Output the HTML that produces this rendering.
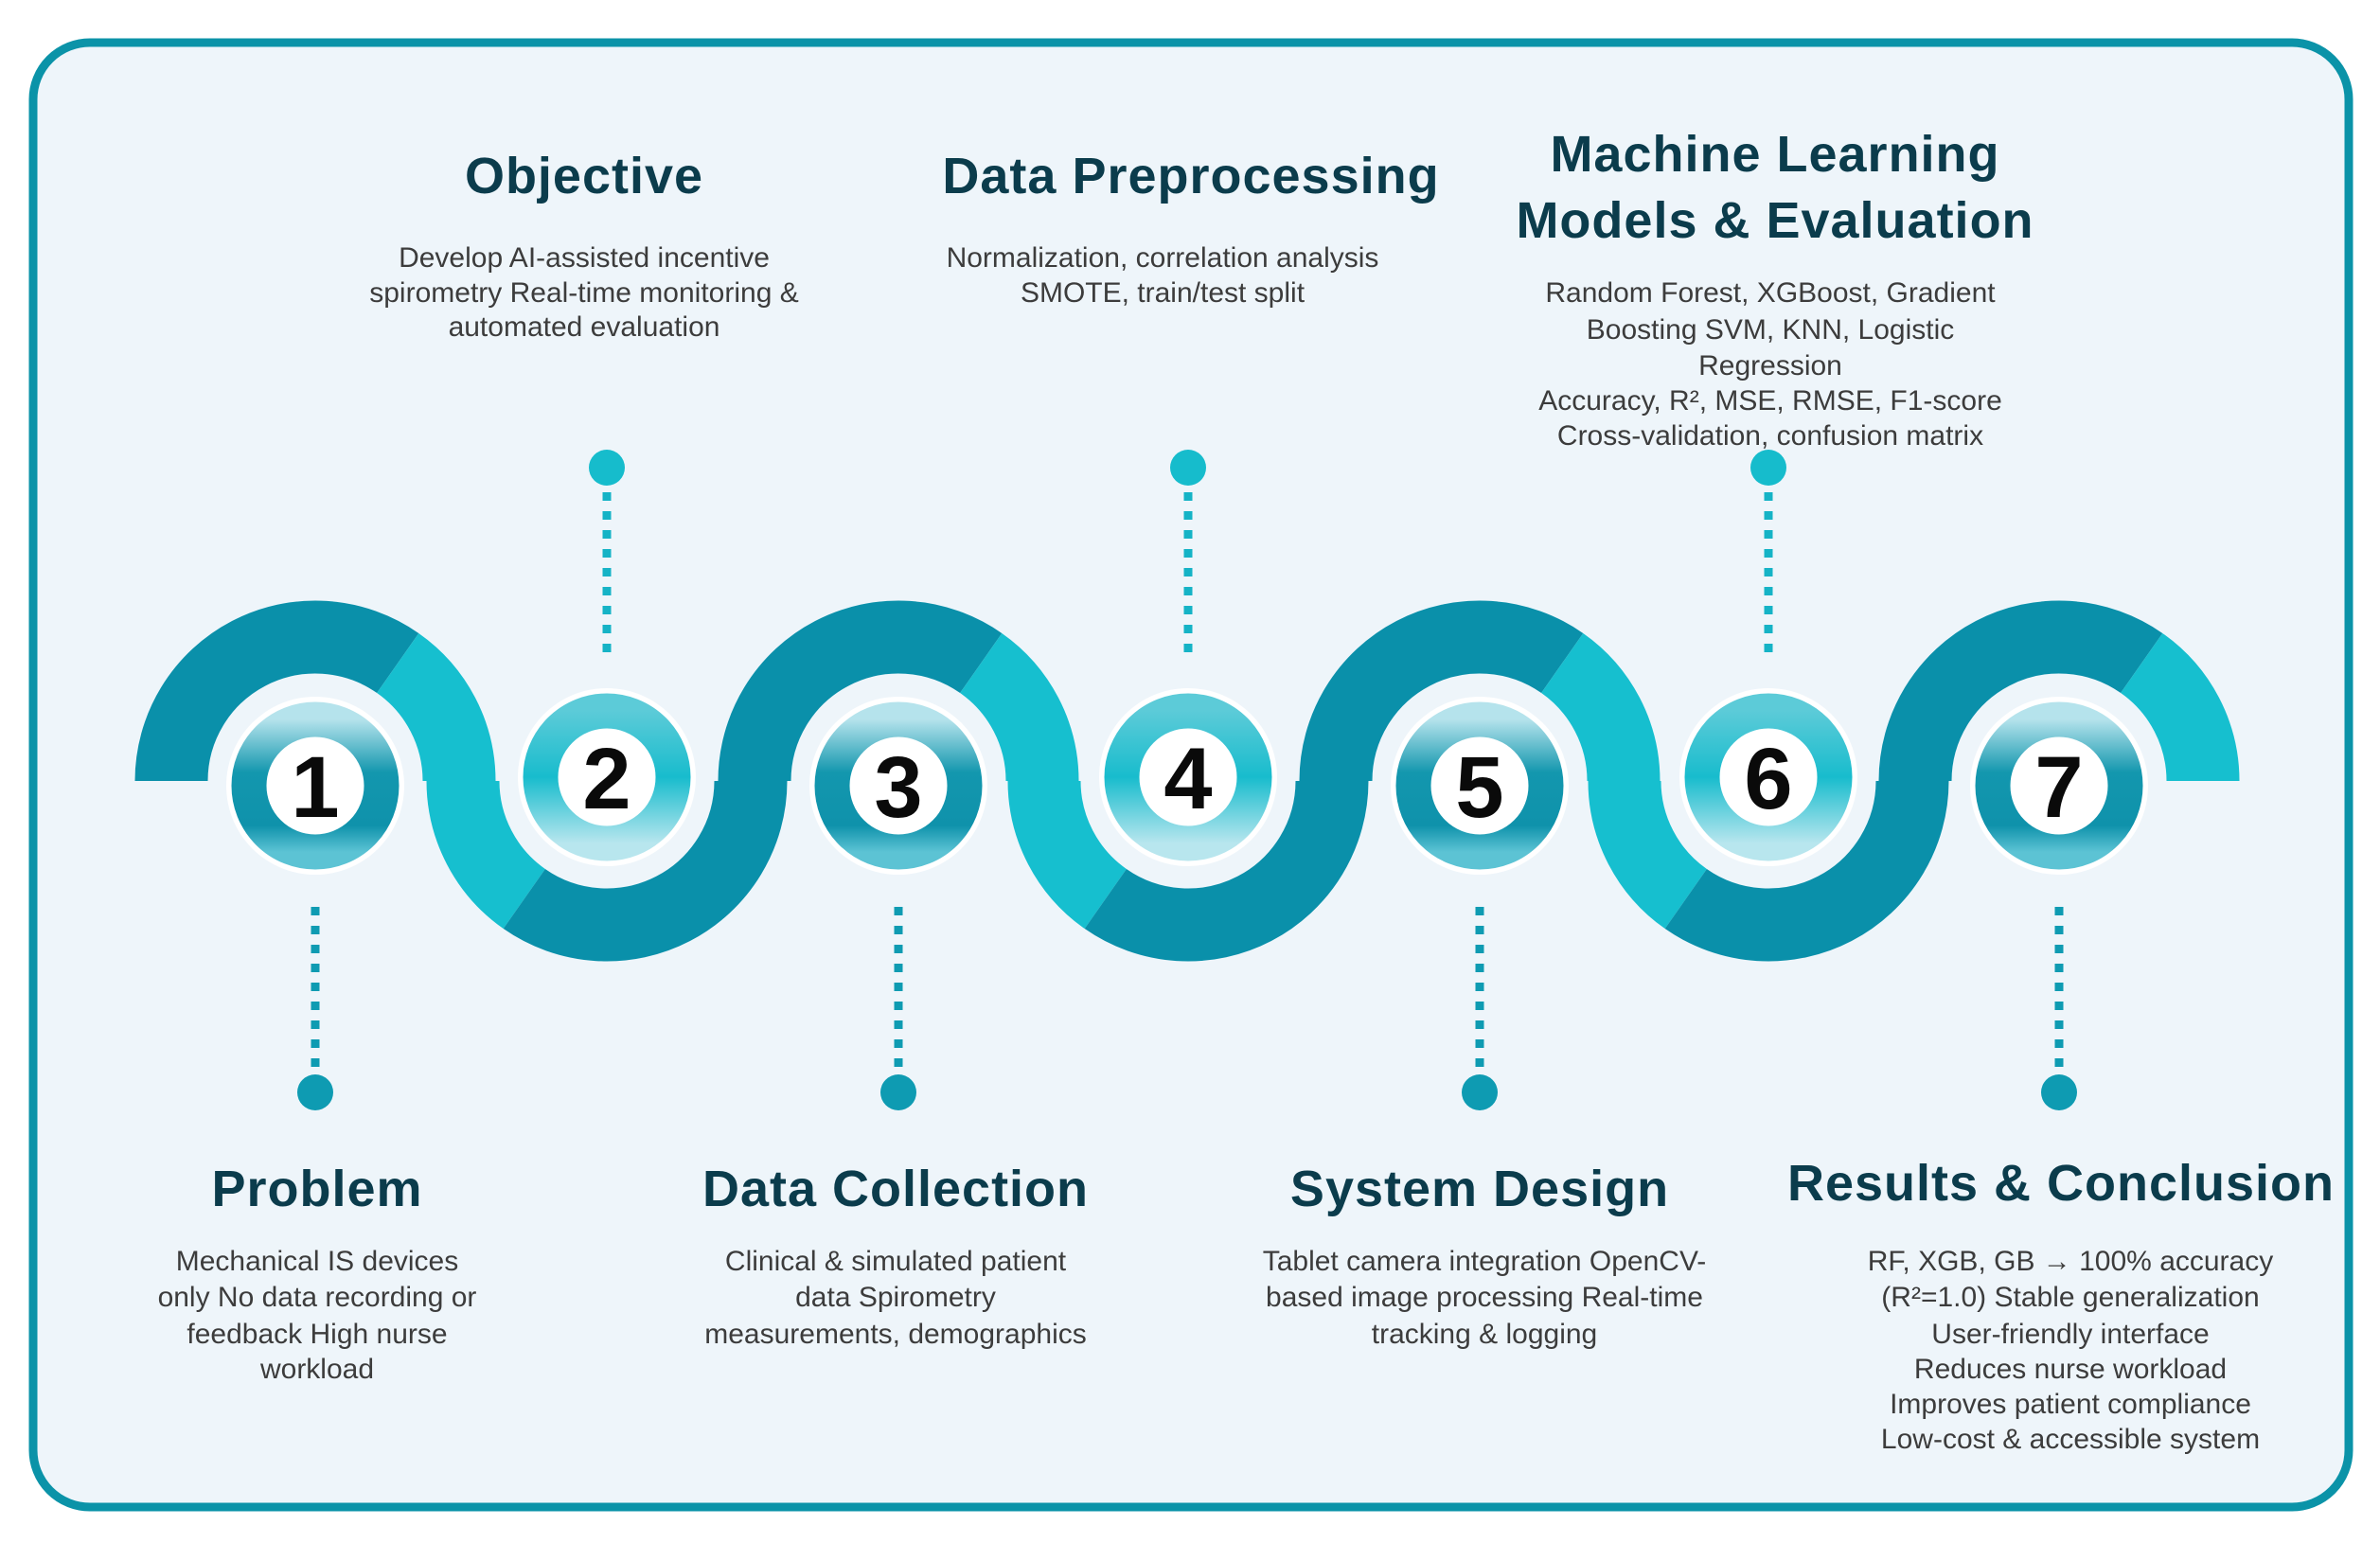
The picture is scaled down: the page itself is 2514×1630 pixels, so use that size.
<!DOCTYPE html>
<html><head><meta charset="utf-8">
<style>
html,body{margin:0;padding:0;background:#fff;width:2514px;height:1630px;overflow:hidden}
svg{display:block}
.t{font-family:"Liberation Sans",sans-serif;font-weight:bold;font-size:54px;fill:#0b3c4c;text-anchor:middle;letter-spacing:1px}
.b{font-family:"Liberation Sans Narrow","Liberation Sans",sans-serif;font-size:30px;fill:#3c3c3c;text-anchor:middle}
.n{font-family:"Liberation Sans",sans-serif;font-weight:bold;font-size:92px;fill:#0a0a0a;text-anchor:middle}
</style></head><body>
<svg width="2514" height="1630" viewBox="0 0 2514 1630" xmlns="http://www.w3.org/2000/svg">
<defs>
<linearGradient id="go" x1="0" y1="0" x2="0" y2="1">
<stop offset="0" stop-color="#b5e3ec"/><stop offset="0.4" stop-color="#1397ae"/><stop offset="0.8" stop-color="#0f92ab"/><stop offset="1" stop-color="#5cc3d4"/>
</linearGradient>
<linearGradient id="ge" x1="0" y1="0" x2="0" y2="1">
<stop offset="0" stop-color="#5ccbd8"/><stop offset="0.5" stop-color="#18bccd"/><stop offset="1" stop-color="#b8e6ee"/>
</linearGradient>
</defs>
<rect x="35" y="45" width="2446" height="1547" rx="60" fill="#eef5fa" stroke="#0b93a8" stroke-width="9"/>

<g fill="none" stroke-width="77" stroke-linecap="butt">
<!-- up arcs (odd) : dark 180->55, light 55->0 ; r=152 cy=825 -->
<!-- cx: 333,641,949,1255,1563,1868,2175 -->
<path d="M181,825 A152,152 0 0 1 420.2,700.5" stroke="#0a90aa"/>
<path d="M420.2,700.5 A152,152 0 0 1 485,825" stroke="#16bfcf"/>
<path d="M489,825 A152,152 0 0 0 553.8,949.5" stroke="#16bfcf"/>
<path d="M553.8,949.5 A152,152 0 0 0 793,825" stroke="#0a90aa"/>
<path d="M797,825 A152,152 0 0 1 1036.2,700.5" stroke="#0a90aa"/>
<path d="M1036.2,700.5 A152,152 0 0 1 1101,825" stroke="#16bfcf"/>
<path d="M1103,825 A152,152 0 0 0 1167.8,949.5" stroke="#16bfcf"/>
<path d="M1167.8,949.5 A152,152 0 0 0 1407,825" stroke="#0a90aa"/>
<path d="M1411,825 A152,152 0 0 1 1650.2,700.5" stroke="#0a90aa"/>
<path d="M1650.2,700.5 A152,152 0 0 1 1715,825" stroke="#16bfcf"/>
<path d="M1716,825 A152,152 0 0 0 1780.8,949.5" stroke="#16bfcf"/>
<path d="M1780.8,949.5 A152,152 0 0 0 2020,825" stroke="#0a90aa"/>
<path d="M2023,825 A152,152 0 0 1 2262.2,700.5" stroke="#0a90aa"/>
<path d="M2262.2,700.5 A152,152 0 0 1 2327,825" stroke="#16bfcf"/>
</g>

<!-- connectors -->
<g stroke-width="9" stroke-dasharray="9 11" fill="none">
<line x1="333" y1="958" x2="333" y2="1130" stroke="#0e9bb2"/>
<line x1="949" y1="958" x2="949" y2="1130" stroke="#0e9bb2"/>
<line x1="1563" y1="958" x2="1563" y2="1130" stroke="#0e9bb2"/>
<line x1="2175" y1="958" x2="2175" y2="1130" stroke="#0e9bb2"/>
<line x1="641" y1="520" x2="641" y2="692" stroke="#15b3c6"/>
<line x1="1255" y1="520" x2="1255" y2="692" stroke="#15b3c6"/>
<line x1="1868" y1="520" x2="1868" y2="692" stroke="#15b3c6"/>
</g>
<g fill="#0e9bb2">
<circle cx="333" cy="1154" r="19"/><circle cx="949" cy="1154" r="19"/><circle cx="1563" cy="1154" r="19"/><circle cx="2175" cy="1154" r="19"/>
</g>
<g fill="#16bccc">
<circle cx="641" cy="494" r="19"/><circle cx="1255" cy="494" r="19"/><circle cx="1868" cy="494" r="19"/>
</g>

<!-- number circles -->
<g fill="#fff">
<circle cx="333" cy="830" r="94"/><circle cx="949" cy="830" r="94"/><circle cx="1563" cy="830" r="94"/><circle cx="2175" cy="830" r="94"/>
<circle cx="641" cy="821" r="94"/><circle cx="1255" cy="821" r="94"/><circle cx="1868" cy="821" r="94"/>
</g>
<g fill="none" stroke-width="37">
<circle cx="333" cy="830" r="70" stroke="url(#go)"/><circle cx="949" cy="830" r="70" stroke="url(#go)"/><circle cx="1563" cy="830" r="70" stroke="url(#go)"/><circle cx="2175" cy="830" r="70" stroke="url(#go)"/>
<circle cx="641" cy="821" r="70" stroke="url(#ge)"/><circle cx="1255" cy="821" r="70" stroke="url(#ge)"/><circle cx="1868" cy="821" r="70" stroke="url(#ge)"/>
</g>
<g class="n">
<text class="n" x="333" y="863">1</text>
<text class="n" x="641" y="854">2</text>
<text class="n" x="949" y="863">3</text>
<text class="n" x="1255" y="854">4</text>
<text class="n" x="1563" y="863">5</text>
<text class="n" x="1868" y="854">6</text>
<text class="n" x="2175" y="863">7</text>
</g>

<!-- top texts -->
<text class="t" x="617" y="204">Objective</text>
<text class="b" x="617" y="282">Develop AI-assisted incentive</text>
<text class="b" x="617" y="319">spirometry Real-time monitoring &amp;</text>
<text class="b" x="617" y="355">automated evaluation</text>

<text class="t" x="1258" y="204">Data Preprocessing</text>
<text class="b" x="1228" y="282">Normalization, correlation analysis</text>
<text class="b" x="1228" y="319">SMOTE, train/test split</text>

<text class="t" x="1875" y="181">Machine Learning</text>
<text class="t" x="1875" y="251">Models &amp; Evaluation</text>
<text class="b" x="1870" y="319">Random Forest, XGBoost, Gradient</text>
<text class="b" x="1870" y="358">Boosting SVM, KNN, Logistic</text>
<text class="b" x="1870" y="396">Regression</text>
<text class="b" x="1870" y="433">Accuracy, R², MSE, RMSE, F1-score</text>
<text class="b" x="1870" y="470">Cross-validation, confusion matrix</text>

<!-- bottom texts -->
<text class="t" x="335" y="1274">Problem</text>
<text class="b" x="335" y="1342">Mechanical IS devices</text>
<text class="b" x="335" y="1380">only No data recording or</text>
<text class="b" x="335" y="1419">feedback High nurse</text>
<text class="b" x="335" y="1456">workload</text>

<text class="t" x="946" y="1274">Data Collection</text>
<text class="b" x="946" y="1342">Clinical &amp; simulated patient</text>
<text class="b" x="946" y="1380">data Spirometry</text>
<text class="b" x="946" y="1419">measurements, demographics</text>

<text class="t" x="1563" y="1274">System Design</text>
<text class="b" x="1568" y="1342">Tablet camera integration OpenCV-</text>
<text class="b" x="1568" y="1380">based image processing Real-time</text>
<text class="b" x="1568" y="1419">tracking &amp; logging</text>

<text class="t" x="2177" y="1268">Results &amp; Conclusion</text>
<text class="b" x="2187" y="1342">RF, XGB, GB → 100% accuracy</text>
<text class="b" x="2187" y="1380">(R²=1.0) Stable generalization</text>
<text class="b" x="2187" y="1419">User-friendly interface</text>
<text class="b" x="2187" y="1456">Reduces nurse workload</text>
<text class="b" x="2187" y="1493">Improves patient compliance</text>
<text class="b" x="2187" y="1530">Low-cost &amp; accessible system</text>
</svg>
</body></html>
